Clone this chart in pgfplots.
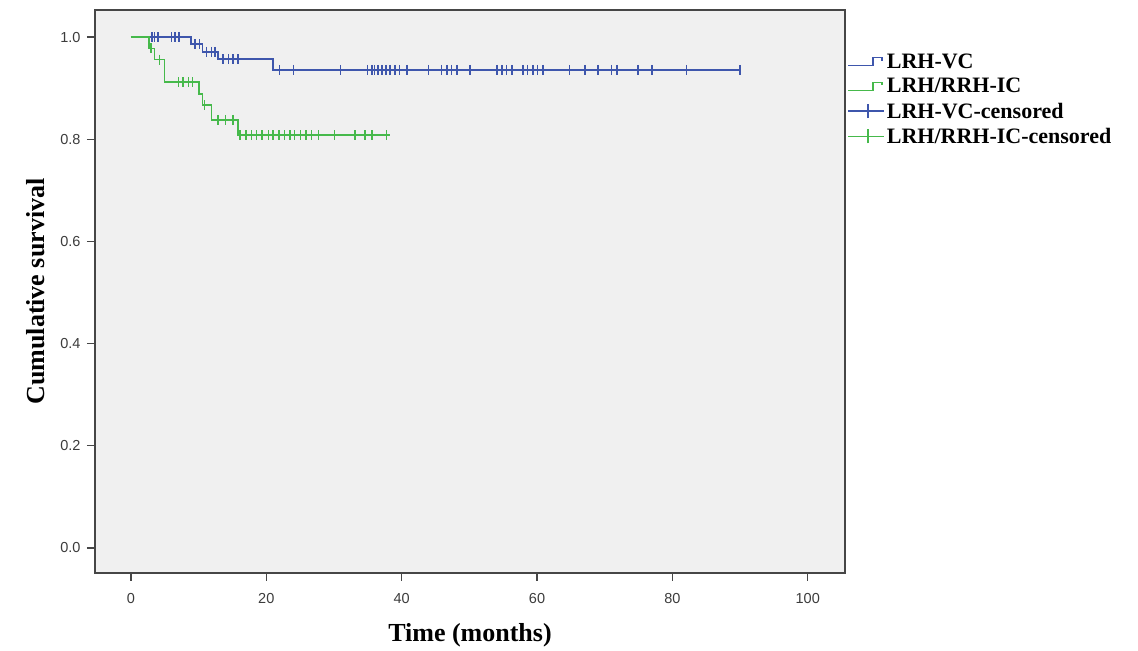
\documentclass[border=0pt]{standalone}
\usepackage{fontspec}
\setmainfont{Liberation Serif}
\newfontfamily\arial{Liberation Sans}
\usepackage{pgfplots}
\pgfplotsset{compat=1.18}
\definecolor{KMblue}{RGB}{62,86,172}
\definecolor{KMgreen}{RGB}{70,185,75}
\definecolor{PanelGray}{RGB}{240,240,240}
\definecolor{FrameGray}{RGB}{70,70,70}
\definecolor{TickText}{RGB}{60,60,60}
\tikzset{
    kmline/.style={const plot, line width=1.5pt, no marks},
    cens/.style={only marks, mark=|, mark size=5pt, mark options={line width=1.4pt}},
}
\begin{document}
\begin{tikzpicture}
\begin{axis}[
    scale only axis,
    width=750pt, height=563pt,
    xmin=-5.3, xmax=105.5,
    ymin=-0.049, ymax=1.053,
    axis background/.style={fill=PanelGray},
    axis line style={draw=FrameGray, line width=1.3pt},
    xtick={0,20,...,100},
    ytick={0,0.2,...,1.0},
    tick pos=left,
    tick align=outside,
    major tick length=8pt,
    tick style={draw=FrameGray, line width=1.3pt},
    /pgf/number format/assume math mode=true,
    yticklabel style={/pgf/number format/fixed, /pgf/number format/fixed zerofill,
        /pgf/number format/precision=1, xshift=-3pt},
    ticklabel style={font=\arial\fontsize{14.5}{16}\selectfont, text=TickText},
    xticklabel style={yshift=-9pt},
    xlabel={\bfseries Time (months)},
    ylabel={\bfseries Cumulative survival},
    label style={font=\fontsize{26}{28}\selectfont},
    xlabel style={yshift=-13pt},
    ylabel style={yshift=9pt},
    legend style={draw=none, fill=none, at={(1.003,0.93)}, anchor=north west,
        font=\fontsize{22}{24}\selectfont\bfseries, row sep=4.5pt,
        legend cell align=left, inner xsep=0pt},
]
% legend entries
\addlegendimage{legend image code/.code={\draw[KMblue,line width=1.4pt] (0pt,-4pt) -- (25pt,-4pt) -- (25pt,4pt) -- (34pt,4pt) -- (34pt,1pt);}}
\addlegendentry{LRH-VC}
\addlegendimage{legend image code/.code={\draw[KMgreen,line width=1.4pt] (0pt,-4pt) -- (25pt,-4pt) -- (25pt,4pt) -- (34pt,4pt) -- (34pt,1pt);}}
\addlegendentry{LRH/RRH-IC}
\addlegendimage{legend image code/.code={\draw[KMblue,line width=1.4pt] (0pt,0pt) -- (36pt,0pt) (20pt,-7pt) -- (20pt,7pt);}}
\addlegendentry{LRH-VC-censored}
\addlegendimage{legend image code/.code={\draw[KMgreen,line width=1.4pt] (0pt,0pt) -- (36pt,0pt) (20pt,-7pt) -- (20pt,7pt);}}
\addlegendentry{LRH/RRH-IC-censored}

% survival curves
\addplot[kmline, KMblue, forget plot] coordinates {
    (0,1.0) (8.9,0.986) (10.6,0.971) (12.9,0.957) (21.0,0.936) (90,0.936)
};
\addplot[kmline, KMgreen, forget plot] coordinates {
    (0,1.0) (2.7,0.978) (3.5,0.956) (5.0,0.912) (10.1,0.889) (10.6,0.867)
    (11.9,0.838) (15.8,0.808) (38.3,0.808)
};

% censored observations
\addplot[cens, KMblue, forget plot] coordinates {
    (3.1,1.0) (3.5,1.0) (4.0,1.0) (6.0,1.0) (6.5,1.0) (7.1,1.0)
    (9.5,0.986) (10.1,0.986)
    (11.2,0.971) (11.9,0.971) (12.4,0.971)
    (13.6,0.957) (14.4,0.957) (15.1,0.957) (15.8,0.957)
    (22.0,0.936) (24.0,0.936) (31.0,0.936) (35.0,0.936) (35.6,0.936) (36.0,0.936)
    (36.5,0.936) (37.1,0.936) (37.7,0.936) (38.3,0.936) (39.0,0.936) (39.7,0.936)
    (40.8,0.936) (44.0,0.936) (45.9,0.936) (46.7,0.936) (47.4,0.936) (48.2,0.936)
    (50.1,0.936) (54.1,0.936) (54.8,0.936) (55.5,0.936) (56.3,0.936) (57.9,0.936)
    (58.6,0.936) (59.4,0.936) (60.1,0.936) (60.9,0.936) (64.8,0.936) (67.1,0.936)
    (69.0,0.936) (71.0,0.936) (71.8,0.936) (74.9,0.936) (77.0,0.936) (82.1,0.936)
    (90.0,0.936)
};
\addplot[cens, KMgreen, forget plot] coordinates {
    (3.0,0.978) (4.2,0.956)
    (7.0,0.912) (7.7,0.912) (8.5,0.912) (9.1,0.912)
    (10.9,0.867)
    (12.9,0.838) (14.0,0.838) (15.1,0.838)
    (16.1,0.808) (17.0,0.808) (17.8,0.808) (18.6,0.808) (19.4,0.808) (20.3,0.808)
    (21.0,0.808) (21.9,0.808) (22.7,0.808) (23.5,0.808) (24.2,0.808) (25.1,0.808)
    (25.9,0.808) (26.7,0.808) (27.7,0.808) (30.1,0.808) (33.1,0.808) (34.6,0.808)
    (35.6,0.808) (37.8,0.808)
};
\end{axis}
\path (current axis.south west) ++(-95pt,-73pt) rectangle ++(1138pt,646pt);
\end{tikzpicture}
\end{document}
